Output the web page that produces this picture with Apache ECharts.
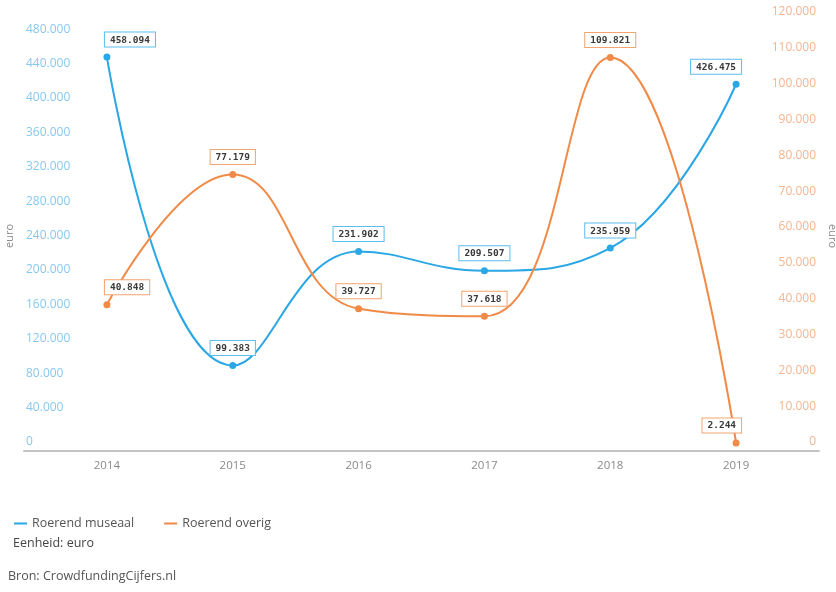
<!DOCTYPE html>
<html>
<head>
<meta charset="utf-8">
<script src="https://cdn.jsdelivr.net/npm/echarts@6/dist/echarts.min.js"></script>
<style>
html,body{margin:0;padding:0;background:#fff;}
#chart{width:836px;height:592px;}
</style>
</head>
<body>
<div id="chart"></div>
<script>
const categories = ['2014','2015','2016','2017','2018','2019'];
const museaal = [458094, 99383, 231902, 209507, 235959, 426475];
const overig = [40848, 77179, 39727, 37618, 109821, 2244];
const seriesNames = ['Roerend museaal', 'Roerend overig'];
const leftTicks = {min: 0, max: 500000, interval: 40000};
const rightTicks = {min: 0, max: 120000, interval: 10000};
const unitText = 'Eenheid: euro';
const sourceText = 'Bron: CrowdfundingCijfers.nl';

const BLUE = '#2aa7e4';
const ORANGE = '#f08a46';
const FONT = "'Open Sans', sans-serif";

function fmt(v){ return String(Math.round(v)).replace(/\B(?=(\d{3})+(?!\d))/g, '.'); }

function buildData(arr){
  const n = arr.length;
  return arr.map((v, i) => {
    const item = {value: v};
    if (i === 0) item.label = {align: 'left', offset: [-2, 0]};
    if (i === n - 1) item.label = {align: 'right', offset: [5, 0]};
    return item;
  });
}

function labelStyle(color){
  return {
    show: true,
    position: 'top',
    distance: 7,
    formatter: p => fmt(p.value),
    fontFamily: "'DejaVu Sans Mono', monospace",
    fontWeight: 'bold',
    fontSize: 9.5,
    color: '#3a3a3a',
    backgroundColor: '#fff',
    borderColor: color,
    borderWidth: 1,
    padding: [2, 5, 1, 5],
    lineHeight: 11
  };
}

const chart = echarts.init(document.getElementById('chart'), null, {renderer: 'canvas'});
chart.setOption({
  animation: false,
  backgroundColor: '#fff',
  textStyle: {fontFamily: FONT},
  grid: [
    {left: 44, right: 37, top: 21, bottom: 141, containLabel: false, outerBoundsMode: 'none'},
    {left: 24, right: 17, top: 21, bottom: 141, containLabel: false, outerBoundsMode: 'none'}
  ],
  xAxis: [
    {
      type: 'category', gridIndex: 0, data: categories, boundaryGap: true,
      axisLine: {show: false}, axisTick: {show: false},
      axisLabel: {color: '#8a8a8a', fontSize: 11.5, margin: 9, fontFamily: FONT}
    },
    {
      type: 'value', gridIndex: 1, min: 0, max: 1,
      axisLine: {show: true, lineStyle: {color: '#c4c4c4', width: 2}},
      axisTick: {show: false}, axisLabel: {show: false}, splitLine: {show: false}
    }
  ],
  yAxis: [
    {
      type: 'value', gridIndex: 0, position: 'left',
      min: leftTicks.min, max: leftTicks.max, interval: leftTicks.interval,
      name: 'euro', nameLocation: 'middle', nameGap: 27,
      nameTextStyle: {color: '#8a8a8a', fontSize: 11, fontFamily: FONT},
      axisLine: {show: false}, axisTick: {show: false}, splitLine: {show: false},
      axisLabel: {
        color: '#86c9ef', fontSize: 12, align: 'left', margin: 18,
        verticalAlign: 'bottom', padding: [0, 0, 3, 0],
        showMaxLabel: false, formatter: fmt, fontFamily: FONT
      }
    },
    {
      type: 'value', gridIndex: 0, position: 'right',
      min: rightTicks.min, max: rightTicks.max, interval: rightTicks.interval,
      name: 'euro', nameLocation: 'middle', nameGap: 23, nameRotate: -90,
      nameTextStyle: {color: '#8a8a8a', fontSize: 11, fontFamily: FONT},
      axisLine: {show: false}, axisTick: {show: false}, splitLine: {show: false},
      axisLabel: {
        color: '#f5b58d', fontSize: 12, align: 'right', margin: 17,
        verticalAlign: 'bottom', padding: [0, 0, 3, 0],
        formatter: fmt, fontFamily: FONT
      }
    },
    {
      type: 'value', gridIndex: 1, show: false, min: 0, max: 1
    }
  ],
  legend: {
    left: 9, top: 512,
    icon: 'rect', itemWidth: 13, itemHeight: 2, itemGap: 30,
    textStyle: {color: '#555', fontSize: 12.5, fontFamily: FONT},
    data: seriesNames
  },
  graphic: [
    {type: 'text', left: 13, top: 537, style: {text: unitText, fill: '#444', font: "12.5px 'Open Sans', sans-serif"}},
    {type: 'text', left: 8, top: 570, style: {text: sourceText, fill: '#555', font: "12.5px 'Open Sans', sans-serif"}}
  ],
  series: [
    {
      name: seriesNames[0], type: 'line', xAxisIndex: 0, yAxisIndex: 0,
      data: buildData(museaal), smooth: 0.45,
      symbol: 'circle', symbolSize: 7,
      lineStyle: {color: BLUE, width: 2}, itemStyle: {color: BLUE},
      label: labelStyle('#5cbdf0')
    },
    {
      name: seriesNames[1], type: 'line', xAxisIndex: 0, yAxisIndex: 1,
      data: buildData(overig), smooth: 0.45,
      symbol: 'circle', symbolSize: 7,
      lineStyle: {color: ORANGE, width: 2}, itemStyle: {color: ORANGE},
      label: labelStyle('#f3a46f')
    }
  ]
});
</script>
</body>
</html>
